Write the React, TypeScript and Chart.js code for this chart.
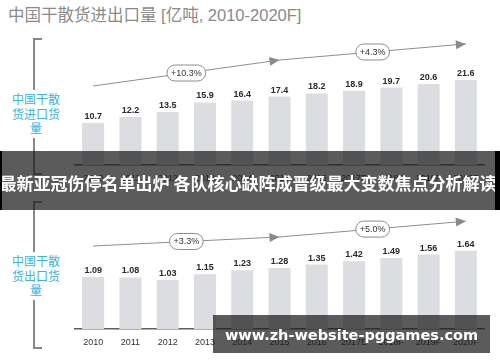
import React, { useEffect, useRef } from "react";
import { Chart, registerables } from "chart.js";

Chart.register(...registerables);

// ---- data ----
const years = ["2010", "2011", "2012", "2013", "2014", "2015", "2016", "2017E", "2018F", "2019F", "2020F"];
const importValues = [10.7, 12.2, 13.5, 15.9, 16.4, 17.4, 18.2, 18.9, 19.7, 20.6, 21.6];
const exportValues = [1.09, 1.08, 1.03, 1.15, 1.23, 1.28, 1.35, 1.42, 1.49, 1.56, 1.64];
const importCagrLabels = ["+10.3%", "+4.3%"];
const exportCagrLabels = ["+3.3%", "+5.0%"];
const arrowIndexes = [0, 5, 10];
const importArrowLevels = [20.1, 26.7, 30.8];
const exportArrowLevels = [1.74, 1.93, 2.26];

const titleText = "中国干散货进出口量 [亿吨, 2010-2020F]";
const importLabel = ["中国干散", "货进口货", "量"];
const exportLabel = ["中国干散", "货出口货", "量"];
const bannerText = "最新亚冠伤停名单出炉 各队核心缺阵成晋级最大变数焦点分析解读";
const watermarkText = "www.zh-website-pggames.com";

const LATIN = "'Liberation Sans', Arial, 'Noto Sans CJK SC', sans-serif";
const CJK = "'Noto Sans CJK SC', 'Liberation Sans', sans-serif";

const overlayPlugin = {
  id: "overlay",
  afterDatasetsDraw(chart: any, _args: any, opts: any) {
    const ctx = chart.ctx as CanvasRenderingContext2D;
    const xs = chart.scales.x;
    const ys = chart.scales.y;
    const meta = chart.getDatasetMeta(0);
    const data = chart.data.datasets[0].data as number[];
    ctx.save();
    // value labels
    ctx.font = "bold 9px " + LATIN;
    ctx.fillStyle = "#2a2a2a";
    ctx.textAlign = "center";
    ctx.textBaseline = "bottom";
    meta.data.forEach((bar: any, i: number) => {
      ctx.fillText(data[i].toFixed(opts.decimals), bar.x, bar.y - 2);
    });
    // arrow polyline
    const pts = (opts.indexes as number[]).map((idx, k) => ({
      x: xs.getPixelForValue(idx),
      y: ys.getPixelForValue(opts.levels[k]),
    }));
    ctx.strokeStyle = "#8e8e8e";
    ctx.lineWidth = 1;
    ctx.beginPath();
    ctx.moveTo(pts[0].x, pts[0].y);
    for (let k = 1; k < pts.length; k++) ctx.lineTo(pts[k].x, pts[k].y);
    ctx.stroke();
    // arrowheads
    ctx.fillStyle = "#8a8a8a";
    for (let k = 1; k < pts.length; k++) {
      const a = Math.atan2(pts[k].y - pts[k - 1].y, pts[k].x - pts[k - 1].x);
      const len = 10;
      const hw = 4.5;
      const tx = pts[k].x;
      const ty = pts[k].y;
      const bx = tx - len * Math.cos(a);
      const by = ty - len * Math.sin(a);
      ctx.beginPath();
      ctx.moveTo(tx, ty);
      ctx.lineTo(bx + hw * Math.sin(a), by - hw * Math.cos(a));
      ctx.lineTo(bx - hw * Math.sin(a), by + hw * Math.cos(a));
      ctx.closePath();
      ctx.fill();
    }
    // pills
    ctx.font = "9px " + LATIN;
    for (let k = 1; k < pts.length; k++) {
      const mx = (pts[k - 1].x + pts[k].x) / 2;
      const my = (pts[k - 1].y + pts[k].y) / 2;
      const label = opts.labels[k - 1];
      const w = ctx.measureText(label).width + 8;
      const h = 16;
      ctx.beginPath();
      (ctx as any).roundRect(mx - w / 2, my - h / 2, w, h, h / 2);
      ctx.fillStyle = "#ffffff";
      ctx.fill();
      ctx.strokeStyle = "#8e8e8e";
      ctx.lineWidth = 1;
      ctx.stroke();
      ctx.fillStyle = "#333333";
      ctx.textAlign = "center";
      ctx.textBaseline = "middle";
      ctx.fillText(label, mx, my + 0.5);
    }
    ctx.restore();
  },
};

function BarPanel(props: {
  values: number[];
  max: number;
  levels: number[];
  labels: string[];
  decimals: number;
  top: number;
  height: number;
  padTop: number;
  padBottom: number;
}) {
  const ref = useRef<HTMLCanvasElement | null>(null);
  useEffect(() => {
    if (!ref.current) return;
    const chart = new Chart(ref.current, {
      type: "bar",
      data: {
        labels: years,
        datasets: [
          {
            data: props.values,
            backgroundColor: "#dcdde1",
            barPercentage: 0.59,
            categoryPercentage: 1,
          },
        ],
      },
      options: {
        animation: false,
        responsive: false,
        maintainAspectRatio: false,
        layout: { padding: { left: 74.5, right: 15.5, top: props.padTop, bottom: props.padBottom } },
        plugins: {
          legend: { display: false },
          tooltip: { enabled: false },
          overlay: {
            decimals: props.decimals,
            indexes: arrowIndexes,
            levels: props.levels,
            labels: props.labels,
          },
        } as any,
        scales: {
          x: {
            grid: { display: false, drawTicks: false },
            border: { display: true, color: "#5e5e5e", width: 1.5 },
            ticks: { font: { size: 9, family: LATIN }, color: "#333", padding: 8, maxRotation: 0, autoSkip: false },
            afterFit: (s: any) => {
              s.height = 20;
            },
          },
          y: { display: false, min: 0, max: props.max },
        },
      },
      plugins: [overlayPlugin as any],
    });
    return () => chart.destroy();
  }, []);
  return (
    <canvas
      ref={ref}
      width={500}
      height={props.height}
      style={{ position: "absolute", left: 0, top: props.top, width: 500, height: props.height, display: "block" }}
    />
  );
}

function Bracket(props: { top: number; bottom: number }) {
  const c = "#878787";
  return (
    <>
      <div style={{ position: "absolute", left: 33, top: props.top, width: 2, height: props.bottom - props.top, background: c }} />
      <div style={{ position: "absolute", left: 33, top: props.top, width: 9, height: 2, background: c }} />
      <div style={{ position: "absolute", left: 33, top: props.bottom - 2, width: 9, height: 2, background: c }} />
    </>
  );
}

function SideLabel(props: { lines: string[]; top: number }) {
  return (
    <div
      style={{
        position: "absolute",
        left: 8,
        top: props.top,
        width: 56,
        textAlign: "center",
        fontFamily: CJK,
        fontSize: 12,
        lineHeight: "14.5px",
        color: "#3bb3da",
        background: "#ffffff",
        padding: "2px 0",
      }}
    >
      {props.lines.map((l, i) => (
        <div key={i}>{l}</div>
      ))}
    </div>
  );
}

export default function App() {
  return (
    <div
      style={{
        position: "absolute",
        left: 0,
        top: 0,
        width: 500,
        height: 362,
        background: "#ffffff",
        overflow: "hidden",
      }}
    >
      <div
        style={{
          position: "absolute",
          left: 8,
          top: 5,
          fontFamily: LATIN,
          fontSize: 16.5,
          lineHeight: "20px",
          color: "#8a8a8a",
          whiteSpace: "nowrap",
        }}
      >
        {titleText}
      </div>

      <BarPanel values={importValues} max={32} levels={importArrowLevels} labels={importCagrLabels} decimals={1} top={0} height={200} padTop={39.2} padBottom={15} />
      <BarPanel values={exportValues} max={2.6} levels={exportArrowLevels} labels={exportCagrLabels} decimals={2} top={181} height={181} padTop={24} padBottom={13} />

      <Bracket top={38} bottom={175} />
      <Bracket top={201} bottom={349} />
      <SideLabel lines={importLabel} top={90} />
      <SideLabel lines={exportLabel} top={252} />

      <div
        style={{
          position: "absolute",
          left: 0,
          top: 151,
          width: 500,
          height: 59,
          background: "rgba(28,28,28,0.72)",
          display: "flex",
          alignItems: "center",
          justifyContent: "center",
          overflow: "hidden",
        }}
      >
        <div
          style={{
            color: "#ffffff",
            fontFamily: CJK,
            fontWeight: 700,
            fontSize: 17,
            whiteSpace: "nowrap",
            marginTop: 4,
            marginRight: 4,
          }}
        >
          {bannerText}
        </div>
      </div>
      <div style={{ position: "absolute", left: 0, top: 151, width: 2, height: 59, background: "#000" }} />
      <div style={{ position: "absolute", left: 495, top: 151, width: 5, height: 59, background: "#000" }} />

      <div
        style={{
          position: "absolute",
          left: 213,
          top: 315,
          width: 277,
          height: 38,
          background: "rgba(28,28,28,0.72)",
          display: "flex",
          alignItems: "center",
          justifyContent: "center",
        }}
      >
        <div
          style={{
            color: "#ffffff",
            fontFamily: "'DejaVu Sans', sans-serif",
            fontWeight: 700,
            fontSize: 14.5,
            whiteSpace: "nowrap",
            marginTop: 2,
          }}
        >
          {watermarkText}
        </div>
      </div>
    </div>
  );
}
